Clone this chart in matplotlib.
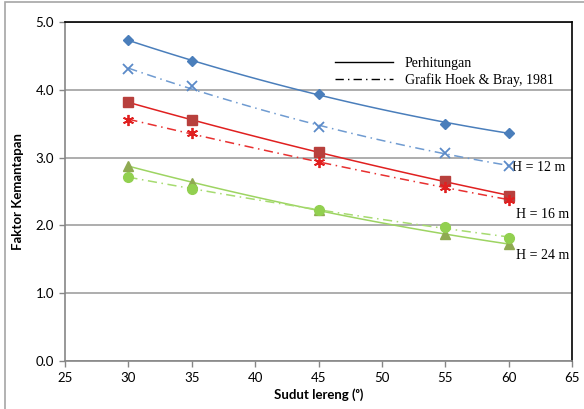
import numpy as np
import matplotlib
matplotlib.use("Agg")
import matplotlib.pyplot as plt
from matplotlib.lines import Line2D
from matplotlib.patches import Rectangle

# Sudut lereng (derajat)
sudut = [30, 35, 45, 55, 60]

# Faktor kemantapan hasil perhitungan
fk_h12 = [4.73, 4.43, 3.94, 3.50, 3.37]
fk_h16 = [3.82, 3.55, 3.08, 2.65, 2.44]
fk_h24 = [2.88, 2.63, 2.22, 1.88, 1.72]

# Faktor kemantapan dari grafik Hoek & Bray (1981)
hb_h12 = [4.30, 4.05, 3.45, 3.07, 2.88]
hb_h16 = [3.56, 3.36, 2.93, 2.56, 2.38]
hb_h24 = [2.72, 2.53, 2.23, 1.97, 1.82]

tinggi_label = ["H = 12 m", "H = 16 m", "H = 24 m"]
tinggi_pos = [(60.3, 2.85), (60.6, 2.16), (60.6, 1.55)]

xticks = [25, 30, 35, 40, 45, 50, 55, 60, 65]
yticks = [0.0, 1.0, 2.0, 3.0, 4.0, 5.0]

seri = [
    # data, warna garis, warna marker, marker, ukuran, gaya garis
    (fk_h12, "#4A7EBB", "#4A7EBB", "D", 5, "-"),
    (hb_h12, "#6F9BD1", "#5B8AC8", "x", 7, (0, (6, 3, 1, 3))),
    (fk_h16, "#E02020", "#B8403D", "s", 6.5, "-"),
    (hb_h16, "#E83030", "#E02020", (6, 2, 0), 8, (0, (6, 3, 1, 3))),
    (fk_h24, "#9DD462", "#8FAA52", "^", 6.5, "-"),
    (hb_h24, "#A6DB70", "#92D050", "o", 7, (0, (6, 3, 1, 3))),
]

fig = plt.figure(figsize=(5.84, 4.09), dpi=100)
ax = fig.add_axes([65 / 584, 48 / 409, 507 / 584, 339 / 409])

# bingkai luar grafik
fig.patches.append(Rectangle((5 / 584, -0.1), 1.2, (409 - 2) / 409 + 0.1,
                             transform=fig.transFigure, fill=False,
                             edgecolor="#A6A6A6", linewidth=1.2))

xs = np.linspace(30, 60, 100)
for data, lc, mc, mk, ms, ls in seri:
    # garis tren polinomial orde 2
    koef = np.polyfit(sudut, data, 2)
    ax.plot(xs, np.polyval(koef, xs), color=lc, linewidth=1.1, linestyle=ls, zorder=3)
    if mk in ("x", (6, 2, 0)):
        ax.plot(sudut, data, linestyle="none", marker=mk, markersize=ms,
                markeredgecolor=mc, markeredgewidth=1.3, zorder=4)
    else:
        ax.plot(sudut, data, linestyle="none", marker=mk, markersize=ms,
                color=mc, markeredgecolor=mc, zorder=4)

for teks, (tx, ty) in zip(tinggi_label, tinggi_pos):
    ax.text(tx, ty, teks, fontsize=10, family="Liberation Serif",
            ha="left", va="center")

ax.set_xlim(25, 65)
ax.set_ylim(0, 5)
ax.set_xticks(xticks)
ax.set_yticks(yticks)
ax.set_yticklabels([f"{v:.1f}" for v in yticks])
ax.tick_params(labelsize=9.5, length=4, color="#868686", width=1, pad=4)
for lbl in ax.get_xticklabels() + ax.get_yticklabels():
    lbl.set_family("Lato")

ax.grid(axis="y", color="#A0A0A0", linewidth=1.2)
ax.set_axisbelow(True)
ax.spines["left"].set_color("#868686")
ax.spines["bottom"].set_color("#868686")
ax.spines["top"].set_color("black")
ax.spines["right"].set_color("black")
for s in ax.spines.values():
    s.set_linewidth(1.2)

ax.set_xlabel("Sudut lereng (ᵒ)", fontsize=9.5, fontweight="bold", family="Lato", labelpad=3)
ax.set_ylabel("Faktor Kemantapan", fontsize=9.5, fontweight="bold", family="Lato", labelpad=8)

handles = [Line2D([], [], color="black", linewidth=1),
           Line2D([], [], color="black", linewidth=1, linestyle=(0, (6, 3, 1, 3)))]
ax.legend(handles, ["Perhitungan", "Grafik Hoek & Bray, 1981"], loc="upper left",
          bbox_to_anchor=(0.508, 0.935), frameon=False, handlelength=4.2,
          handletextpad=0.8, labelspacing=0.25, prop={"family": "Liberation Serif", "size": 10})

fig.savefig("out.png", dpi=100)
